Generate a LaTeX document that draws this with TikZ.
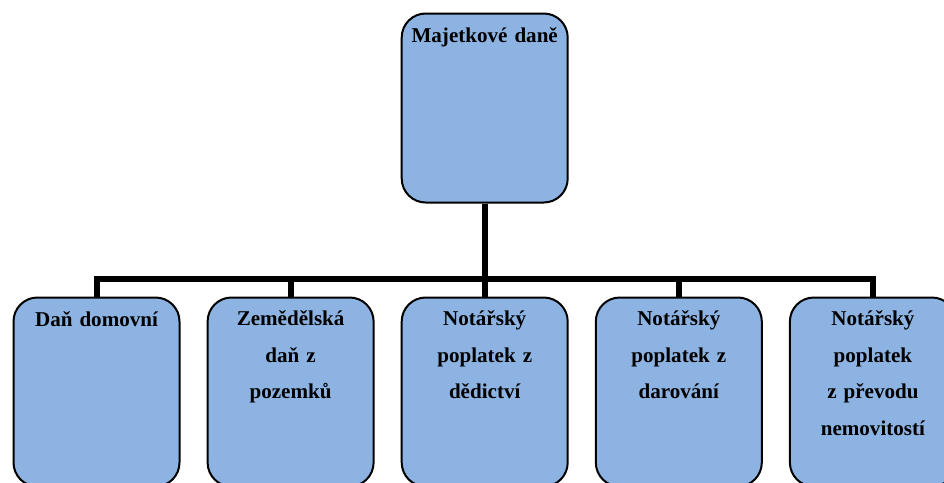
\documentclass[tikz,border=0pt]{standalone}
\usepackage{fontspec}
\setmainfont{Liberation Serif}
\definecolor{boxblue}{RGB}{141,179,226}
\begin{document}
\begin{tikzpicture}[x=0.75pt,y=-0.75pt,
  box/.style={draw=black, line width=1.5pt, fill=boxblue, rounded corners=18pt,
    minimum width=124.5pt, minimum height=141.75pt, inner sep=0pt},
  lbl/.style={anchor=base, text width=130pt, align=center, inner sep=0pt,
    font=\bfseries\fontsize{15.8}{27.5}\selectfont},
  conn/.style={line width=4.5pt, line join=miter}]
  \clip (0,0) rectangle (944,482);
  \fill[white] (0,0) rectangle (944,482);

  % boxes
  \node[box] (top) at (484.7,108) {};
  \node[box] (b1) at (96.5,392) {};
  \node[box] (b2) at (290.6,392) {};
  \node[box] (b3) at (484.7,392) {};
  \node[box] (b4) at (678.8,392) {};
  \node[box] (b5) at (872.9,392) {};

  % labels
  \node[lbl] (t0) at (484.7,42.7) {Majetkové daně};
  \node[lbl] (t1) at (96.5,326) {Daň domovní};
  \node[lbl] (t2) at (290.6,325.5) {Zemědělská\\daň z\\pozemků};
  \node[lbl] (t3) at (484.7,325.5) {Notářský\\poplatek z\\dědictví};
  \node[lbl] (t4) at (678.8,325.5) {Notářský\\poplatek z\\darování};
  \node[lbl] (t5) at (872.9,325.5) {Notářský\\poplatek\\z převodu\\nemovitostí};

  % connectors
  \coordinate (hub) at (484.7,278.5);
  \draw[conn] (top.south) -- (hub) -| (b1.north);
  \draw[conn] (hub) -| (b2.north);
  \draw[conn] (hub) -- (b3.north);
  \draw[conn] (hub) -| (b4.north);
  \draw[conn] (hub) -| (b5.north);
\end{tikzpicture}
\end{document}
